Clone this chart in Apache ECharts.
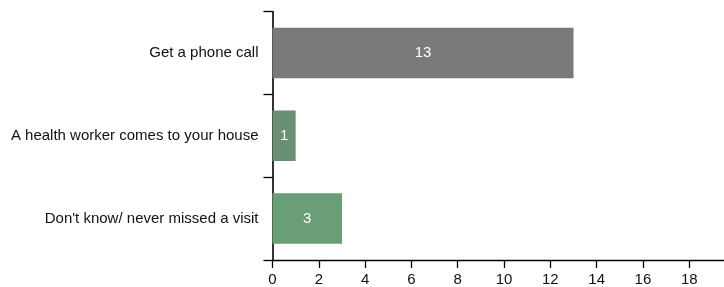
<!DOCTYPE html>
<html>
<head>
<meta charset="utf-8">
<script src="https://cdn.jsdelivr.net/npm/echarts@6/dist/echarts.min.js"></script>
<style>
html,body{margin:0;padding:0;background:#fff;}
#chart{width:724px;height:287px;}
</style>
</head>
<body>
<div id="chart"></div>
<script>
const categories = ["Get a phone call", "A health worker comes to your house", "Don't know/ never missed a visit"];
const counts = [13, 1, 3];
const barColors = ["#7a7a7a", "#6b8f74", "#6a9e77"];
const xTicks = [0, 2, 4, 6, 8, 10, 12, 14, 16, 18];

const chart = echarts.init(document.getElementById('chart'), null, {renderer: 'canvas'});
chart.setOption({
  animation: false,
  backgroundColor: '#fff',
  grid: {left: 272.5, top: 11.5, right: 0, bottom: 26.5, containLabel: false},
  xAxis: {
    type: 'value',
    min: 0,
    max: 19.5,
    interval: 2,
    splitLine: {show: false},
    axisLine: {show: true, lineStyle: {color: '#000', width: 1.3}},
    axisTick: {show: true, length: 8, lineStyle: {color: '#000', width: 1.3}, customValues: xTicks},
    axisLabel: {color: '#111', fontSize: 15, fontFamily: 'Liberation Sans, Arial, sans-serif', margin: 12, customValues: xTicks}
  },
  yAxis: {
    type: 'category',
    data: categories,
    inverse: true,
    axisLine: {show: true, lineStyle: {color: '#000', width: 1.6}},
    axisTick: {show: true, length: 9, lineStyle: {color: '#000', width: 1.3}},
    axisLabel: {color: '#111', fontSize: 15, fontFamily: 'Liberation Sans, Arial, sans-serif', margin: 14}
  },
  series: [{
    type: 'bar',
    data: counts.map((v, i) => ({value: v, itemStyle: {color: barColors[i]}})),
    barCategoryGap: '39%',
    label: {show: true, position: 'inside', color: '#fff', fontSize: 15, fontFamily: 'Liberation Sans, Arial, sans-serif'}
  }]
});
</script>
</body>
</html>
